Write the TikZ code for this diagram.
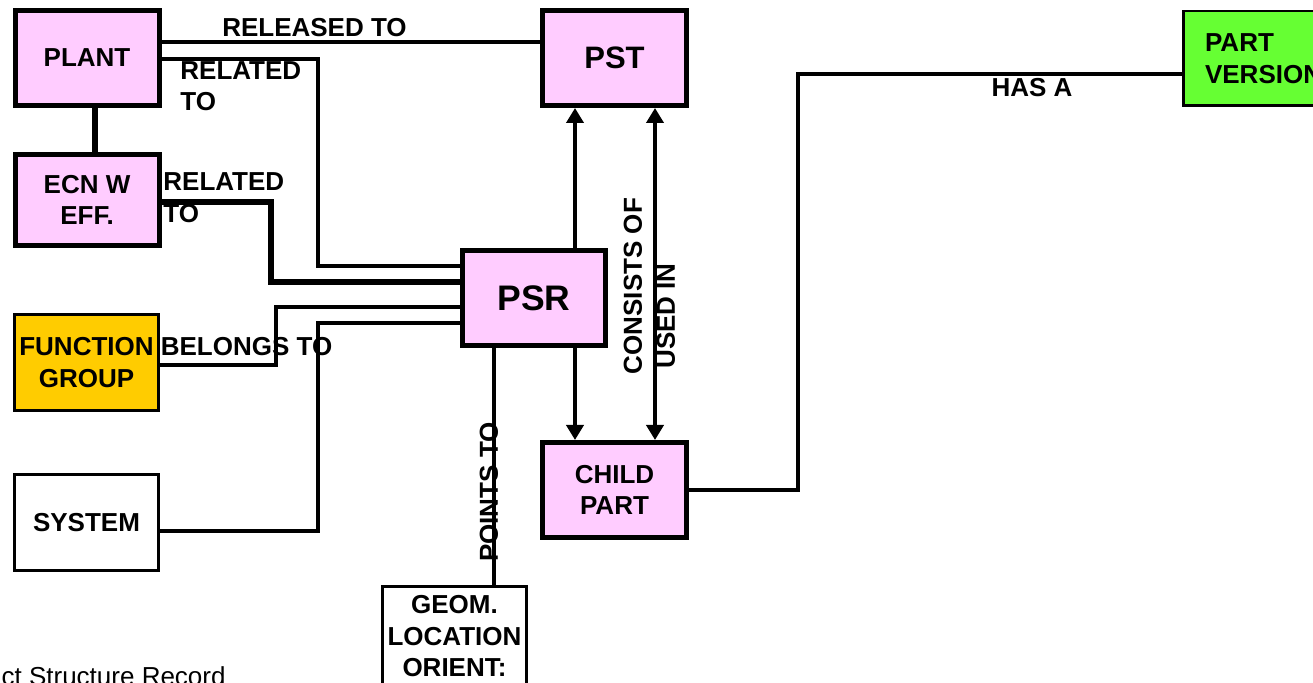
\documentclass[tikz,border=0pt]{standalone}
\usepackage{fontspec}
\setmainfont{Liberation Sans}
\usetikzlibrary{arrows.meta,calc}
\definecolor{pinkbox}{HTML}{FFCCFF}
\definecolor{goldbox}{HTML}{FFCC00}
\definecolor{greenbox}{HTML}{66FF33}
\newcommand{\lblfont}{\fontsize{13}{15.75}\selectfont\bfseries}

\begin{document}
\begin{tikzpicture}[x=0.5pt, y=-0.5pt, >={Triangle[width=8.5pt,length=7.5pt]}, pbox/.style={draw, line width=2.5pt, fill=pinkbox, font=\lblfont, align=center, inner sep=0pt, minimum width=72pt, minimum height=47.5pt}, wbox/.style={draw, line width=1.5pt, fill=white, font=\lblfont, align=center, inner sep=0pt, minimum width=72pt, minimum height=48pt}, conn/.style={line width=1.75pt}, bconn/.style={line width=3pt}, arr/.style={line width=2.25pt, ->}, lbl/.style={font=\lblfont, inner sep=0pt, align=left}]
\useasboundingbox (0,0) rectangle (1313,683);
\clip (0,0) rectangle (1313,683);
\fill[white] (0,0) rectangle (1313,683);
\node[pbox] (plant) at (87,58) {PLANT};
\node[pbox, minimum height=45.5pt] (ecn) at (87,200) {ECN W\\EFF.};
\node[wbox, fill=goldbox] (fgroup) at (86.5,362.5) {FUNCTION\\GROUP};
\node[wbox] (system) at (86.5,522.5) {SYSTEM};
\node[pbox, font=\fontsize{15.5}{18}\selectfont\bfseries] (pst) at (614.5,58) {PST};
\node[pbox, minimum width=71.5pt, font=\fontsize{17.75}{20}\selectfont\bfseries] (psr) at (534,298) {PSR};
\node[pbox] (child) at (614.5,490) {CHILD\\PART};
\node[wbox, anchor=north, minimum height=49.75pt] (geom) at (454.5,585) {GEOM.\\LOCATION\\ORIENT:};
\node[draw, line width=1.25pt, fill=greenbox, font=\lblfont, align=left, anchor=west, text width=66pt, inner xsep=10.9pt, inner ysep=0pt, minimum height=47.25pt] (pv) at (1182,58.5) {PART\\VERSION};
\draw[conn] ($(plant.east)+(0,-16)$) coordinate (rel) -- (rel -| pst.west);
\draw[bconn] ($(plant.south)+(8,0)$) -- ($(ecn.north)+(8,0)$);
\draw[conn] ($(plant.east)+(0,1)$) -| ($(psr.west)+(-142,-32)$) -- ($(psr.west)+(0,-32)$);
\draw[bconn] ($(ecn.east)+(0,2)$) -| ($(psr.west)+(-189,-16)$) -- ($(psr.west)+(0,-16)$);
\draw[conn] ($(fgroup.east)+(0,2.5)$) -| ($(psr.west)+(-184,9)$) -- ($(psr.west)+(0,9)$);
\draw[conn] ($(system.east)+(0,8.5)$) -| ($(psr.west)+(-142,25)$) -- ($(psr.west)+(0,25)$);
\draw[arr] ($(psr.north)+(41,0)$) coordinate (up) -- (up |- pst.south);
\draw[arr] ($(psr.south)+(41,0)$) coordinate (dn) -- (dn |- child.north);
\draw[arr, <->] ($(pst.south)+(40.5,0)$) coordinate (cs) -- (cs |- child.north);
\draw[conn] ($(psr.south)+(-40,0)$) coordinate (pt) -- (pt |- geom.north);
\draw[conn] (child.east) -| ($(pv.west)+(-384,15.5)$) -- ($(pv.west)+(0,15.5)$);
\node[lbl] (released) at (314.5,28) {RELEASED TO};
\node[lbl, anchor=west] (relto1) at (180,86) {RELATED\\TO};
\node[lbl, anchor=west] (relto2) at (163,197.5) {RELATED\\TO};
\node[lbl] (belongs) at (246.5,347) {BELONGS TO};
\node[lbl, rotate=90] (consists) at (633,286) {CONSISTS OF};
\node[lbl, rotate=90] (usedin) at (666,316) {USED IN};
\node[lbl, rotate=90] (points) at (489,492) {POINTS TO};
\node[lbl] (hasa) at (1032,88) {HAS A};
\node[font=\fontsize{13}{15.75}\selectfont, anchor=base east, inner sep=0pt] (caption) at (226,686) {Product Structure Record};
\end{tikzpicture}
\end{document}
